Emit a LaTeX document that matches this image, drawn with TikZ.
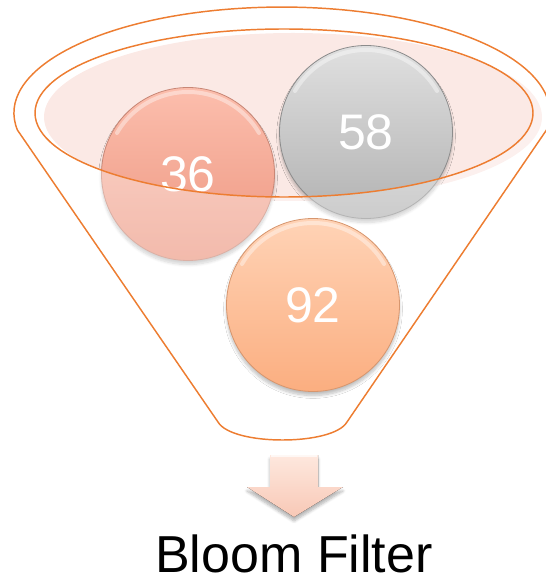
\documentclass[tikz,border=0pt]{standalone}
\usepackage{fontspec}
\setmainfont{Liberation Sans}
\usetikzlibrary{shadows.blur}

\definecolor{funnelorange}{RGB}{237,125,49}
\definecolor{rimpink}{RGB}{251,233,229}
\definecolor{redtop}{RGB}{252,190,173}
\definecolor{redbottom}{RGB}{236,150,128}
\definecolor{rededge}{RGB}{200,135,118}
\definecolor{greytop}{RGB}{224,224,224}
\definecolor{greybottom}{RGB}{178,178,178}
\definecolor{greyedge}{RGB}{140,140,140}
\definecolor{peachtop}{RGB}{255,211,182}
\definecolor{peachbottom}{RGB}{251,174,128}
\definecolor{peachedge}{RGB}{215,150,110}
\definecolor{arrowtop}{RGB}{254,232,222}
\definecolor{arrowbottom}{RGB}{248,200,182}

% outline of the funnel: rim arc, two sides and the rounded spout
\newcommand{\funnelbody}{(17.4,130) arc[start angle=170.8,end angle=369.2,x radius=268,y radius=106] -- (347,422) .. controls (333,446) and (232,446) .. (218,422) -- cycle}

\begin{document}
\begin{tikzpicture}[x=0.75pt,y=-0.75pt,
    ball/.style={circle,minimum size=129.75pt,inner sep=0pt,line width=0.6pt,text=white,
      font=\fontsize{37.5}{40}\selectfont,
      blur shadow={shadow xshift=0pt,shadow yshift=-3pt,shadow opacity=25,shadow blur steps=8}},
    bevel/.style={white,opacity=0.4,line width=3pt,line cap=round},
    rim/.style={draw=funnelorange,line width=1.1pt}]
        \useasboundingbox (0,0) rectangle (545,584);

        %Shape: Ellipse (rim fill)
        \fill[rimpink] (293,117) ellipse [x radius=249,y radius=84];

        %Shape: Circle
        \node[ball,draw=rededge,top color=redtop,bottom color=redbottom] (b36) at (188,174) {36};
        \draw[bevel] ([shift={(210:82)}]b36.center) arc[start angle=210,end angle=330,radius=82];
        %Shape: Circle
        \node[ball,draw=greyedge,top color=greytop,bottom color=greybottom] (b58) at (366,132) {58};
        \draw[bevel] ([shift={(210:82)}]b58.center) arc[start angle=210,end angle=330,radius=82];

        %Shape: Funnel body wash
        \fill[white,fill opacity=0.35,even odd rule] \funnelbody (284,113) ellipse [x radius=249,y radius=84];

        %Shape: Ellipse (rim)
        \draw[rim] (284,113) ellipse [x radius=249,y radius=84];
        %Shape: Funnel
        \draw[rim,line join=round] \funnelbody;

        %Shape: Circle
        \node[ball,draw=peachedge,top color=peachtop,bottom color=peachbottom] (b92) at (313,305) {92};
        \draw[bevel] ([shift={(210:82)}]b92.center) arc[start angle=210,end angle=330,radius=82];

        %Shape: Down Arrow
        \fill[top color=arrowtop,bottom color=arrowbottom,
          blur shadow={shadow xshift=0pt,shadow yshift=-3pt,shadow opacity=30,shadow blur steps=6}]
          (270,455) -- (318,455) -- (318,487) -- (343,487) -- (294,517) -- (247,487) -- (270,487) -- cycle;
        \draw[white,opacity=0.7,line width=1pt] (271,456) -- (317,456);

        %Text
        \node[font=\fontsize{39}{42}\selectfont,inner sep=0pt] (caption) at (294,554) {Bloom Filter};
\end{tikzpicture}
\end{document}
